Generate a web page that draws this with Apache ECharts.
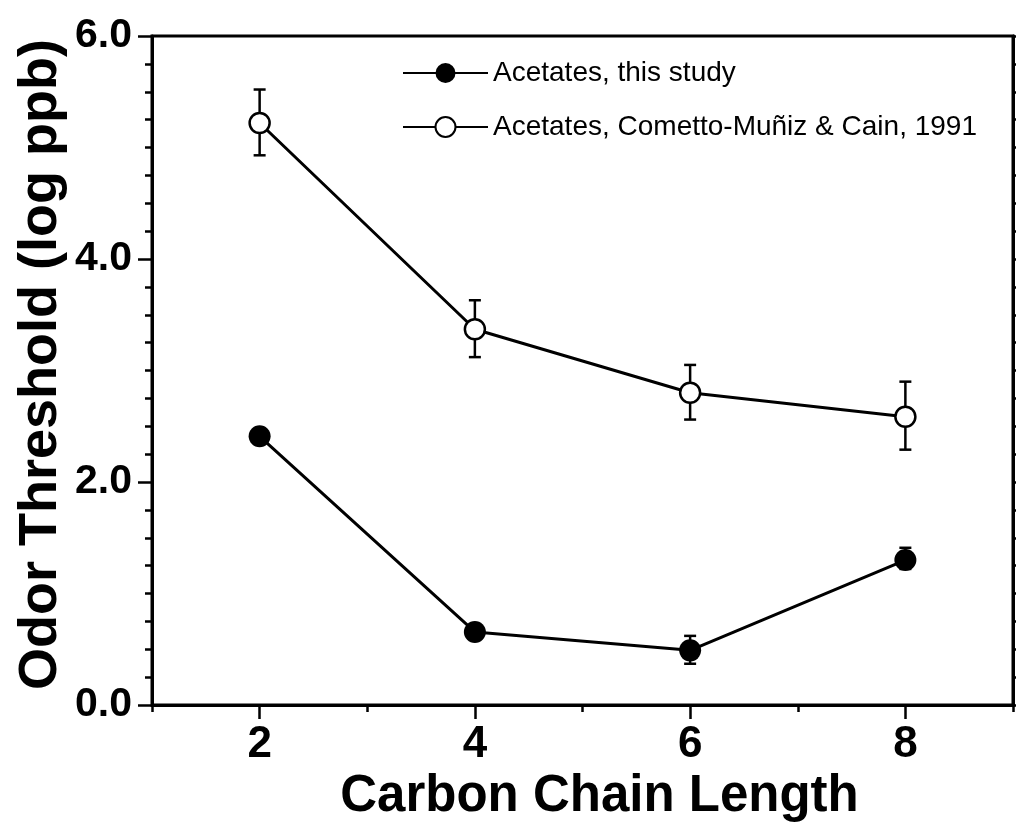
<!DOCTYPE html>
<html>
<head>
<meta charset="utf-8">
<script src="https://cdn.jsdelivr.net/npm/echarts@6/dist/echarts.min.js"></script>
<style>
html,body{margin:0;padding:0;background:#fff;}
#chart{width:1016px;height:830px;}
</style>
</head>
<body>
<div id="chart"></div>
<script>
// Data
var chainLength = [2, 4, 6, 8];
var thisStudy = [2.41, 0.655, 0.49, 1.30];
var thisStudyLow = [2.35, 0.60, 0.37, 1.22];
var thisStudyHigh = [2.47, 0.71, 0.62, 1.41];
var cometto = [5.22, 3.37, 2.80, 2.585];
var comettoLow = [4.93, 3.12, 2.56, 2.29];
var comettoHigh = [5.52, 3.63, 3.05, 2.90];
var xMajorTicks = [2, 4, 6, 8];
var xMinorTicks = [1, 3, 5, 7, 9];
var seriesNames = ['Acetates, this study', 'Acetates, Cometto-Muñiz & Cain, 1991'];

function pairs(xs, ys) { return xs.map(function (x, i) { return [x, ys[i]]; }); }
function errData(xs, lo, hi) { return xs.map(function (x, i) { return [x, lo[i], hi[i]]; }); }

function errRender(params, api) {
  var x = api.value(0);
  var lo = api.coord([x, api.value(1)]);
  var hi = api.coord([x, api.value(2)]);
  var hw = 6;
  var st = { stroke: '#000', lineWidth: 2.5 };
  return {
    type: 'group',
    children: [
      { type: 'line', shape: { x1: lo[0], y1: lo[1], x2: hi[0], y2: hi[1] }, style: st },
      { type: 'line', shape: { x1: lo[0] - hw, y1: lo[1], x2: lo[0] + hw, y2: lo[1] }, style: st },
      { type: 'line', shape: { x1: hi[0] - hw, y1: hi[1], x2: hi[0] + hw, y2: hi[1] }, style: st }
    ]
  };
}

var FONT = '"Liberation Sans", Arial, Helvetica, sans-serif';
var chart = echarts.init(document.getElementById('chart'), null, { renderer: 'canvas' });

var option = {
  backgroundColor: '#fff',
  animation: false,
  textStyle: { fontFamily: FONT, color: '#000' },
  grid: {
    left: 152, right: 3, top: 36, bottom: 125,
    show: true, borderColor: '#000', borderWidth: 3, backgroundColor: 'transparent'
  },
  legend: {
    orient: 'vertical',
    left: 402, top: 59, padding: 0,
    itemWidth: 85, itemHeight: 25, itemGap: 26,
    textStyle: { fontFamily: FONT, fontSize: 28, color: '#000' },
    data: seriesNames
  },
  xAxis: [
    {
      type: 'value', min: 1, max: 9, position: 'bottom',
      axisLine: { show: true, onZero: false, lineStyle: { color: '#000', width: 3 } },
      axisTick: { show: true, length: 14, customValues: xMajorTicks, lineStyle: { color: '#000', width: 2.5 } },
      axisLabel: { customValues: xMajorTicks, margin: 18, fontSize: 44, fontWeight: 'bold', fontFamily: FONT, color: '#000' },
      splitLine: { show: false },
      name: 'Carbon Chain Length', nameLocation: 'middle', nameGap: 66, nameMoveOverlap: false,
      nameTextStyle: { fontSize: 51, fontWeight: 'bold', fontFamily: FONT, color: '#000', padding: [0, 0, 0, 34] }
    },
    {
      type: 'value', min: 1, max: 9, position: 'bottom',
      axisLine: { show: false, onZero: false },
      axisTick: { show: true, length: 7, customValues: xMinorTicks, lineStyle: { color: '#000', width: 2.5 } },
      axisLabel: { show: false },
      splitLine: { show: false }
    }
  ],
  yAxis: [
    {
      type: 'value', min: 0, max: 6, interval: 2, position: 'left',
      axisLine: { show: true, onZero: false, lineStyle: { color: '#000', width: 3 } },
      axisTick: { show: true, length: 14, lineStyle: { color: '#000', width: 2.5 } },
      minorTick: { show: true, splitNumber: 8, length: 7, lineStyle: { color: '#000', width: 2.5 } },
      axisLabel: {
        margin: 20, fontSize: 41, fontWeight: 'bold', fontFamily: FONT, color: '#000',
        formatter: function (v) { return v.toFixed(1); }
      },
      splitLine: { show: false },
      name: 'Odor Threshold (log ppb)', nameLocation: 'middle', nameGap: 84, nameMoveOverlap: false,
      nameTextStyle: { fontSize: 54, fontWeight: 'bold', fontFamily: FONT, color: '#000', padding: [0, 0, 0, 12] }
    },
    {
      type: 'value', min: 0, max: 6, interval: 0.25, position: 'right',
      axisLine: { show: true, onZero: false, lineStyle: { color: '#000', width: 3 } },
      axisTick: { show: true, length: 7, lineStyle: { color: '#000', width: 2.5 } },
      axisLabel: { show: false },
      splitLine: { show: false }
    }
  ],
  series: [
    {
      name: seriesNames[1], type: 'line', xAxisIndex: 0, yAxisIndex: 0,
      data: pairs(chainLength, cometto),
      symbol: 'circle', symbolSize: 20,
      lineStyle: { color: '#000', width: 3 },
      itemStyle: { color: '#fff', borderColor: '#000', borderWidth: 2.5 },
      z: 3
    },
    {
      name: seriesNames[0], type: 'line', xAxisIndex: 0, yAxisIndex: 0,
      data: pairs(chainLength, thisStudy),
      symbol: 'circle', symbolSize: 22,
      lineStyle: { color: '#000', width: 3 },
      itemStyle: { color: '#000', borderColor: '#000', borderWidth: 0 },
      z: 3
    },
    {
      type: 'custom', xAxisIndex: 0, yAxisIndex: 0,
      data: errData(chainLength, comettoLow, comettoHigh),
      renderItem: errRender, z: 2, silent: true
    },
    {
      type: 'custom', xAxisIndex: 0, yAxisIndex: 0,
      data: errData(chainLength, thisStudyLow, thisStudyHigh),
      renderItem: errRender, z: 2, silent: true
    }
  ]
};
chart.setOption(option);
</script>
</body>
</html>
